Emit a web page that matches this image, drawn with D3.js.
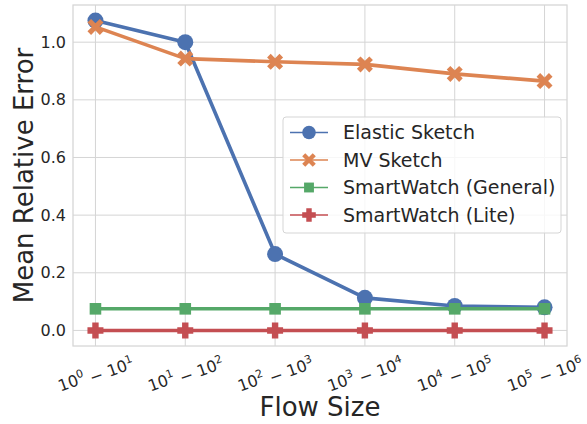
<!DOCTYPE html>
<html><head><meta charset="utf-8">
<script src="https://cdn.jsdelivr.net/npm/d3@7"></script>
<style>body{margin:0;background:#fff}svg{display:block}text{font-family:"DejaVu Sans",sans-serif;fill:#262626}</style>
</head><body><svg id="c" width="587" height="424"></svg>
<script>
const categories = [[0,1],[1,2],[2,3],[3,4],[4,5],[5,6]];
const elastic = [1.075, 1.0, 0.265, 0.113, 0.085, 0.080];
const mv = [1.053, 0.943, 0.932, 0.923, 0.890, 0.865];
const swGeneral = [0.075, 0.075, 0.075, 0.075, 0.075, 0.075];
const swLite = [0.0, 0.0, 0.0, 0.0, 0.0, 0.0];
const yTicks = [0.0, 0.2, 0.4, 0.6, 0.8, 1.0];
const seriesNames = ["Elastic Sketch", "MV Sketch", "SmartWatch (General)", "SmartWatch (Lite)"];
const colors = ["#4C72B0", "#DD8452", "#55A868", "#C44E52"];
const markers = ["circle", "x", "square", "plus"];

const svg = d3.select("#c");
const L = 73, R = 567, T = 5, B = 346;
const x = d3.scaleLinear().domain([-0.25, 5.25]).range([L, R]);
const y = d3.scaleLinear().domain([-0.054, 1.129]).range([B, T]);
const grid = "#d5d5d5";

// grid
svg.append("g").selectAll("line").data(yTicks).join("line")
  .attr("x1", L).attr("x2", R).attr("y1", d => y(d)).attr("y2", d => y(d))
  .attr("stroke", grid).attr("stroke-width", 1);
svg.append("g").selectAll("line").data(categories).join("line")
  .attr("x1", (d,i) => x(i)).attr("x2", (d,i) => x(i)).attr("y1", T).attr("y2", B)
  .attr("stroke", grid).attr("stroke-width", 1);
svg.append("rect").attr("x", L).attr("y", T).attr("width", R-L).attr("height", B-T)
  .attr("fill", "none").attr("stroke", grid).attr("stroke-width", 1.25);

// y tick labels
svg.append("g").selectAll("text").data(yTicks).join("text")
  .attr("x", L - 7).attr("y", d => y(d)).attr("dy", "0.35em")
  .attr("text-anchor", "end").attr("font-size", 16).text(d => d.toFixed(1));

// x tick labels
const xl = svg.append("g").selectAll("g").data(categories).join("g")
  .attr("transform", (d,i) => `translate(${x(i)},${B+27}) rotate(-20)`);
xl.each(function(d){
  const t = d3.select(this).append("text").attr("text-anchor","middle").attr("font-size",16).attr("dy","0.35em");
  t.append("tspan").text("10");
  t.append("tspan").attr("font-size",11).attr("dy","-0.6em").text(d[0]);
  t.append("tspan").attr("dy","0.6em").text(" \u2212 10");
  t.append("tspan").attr("font-size",11).attr("dy","-0.6em").text(d[1]);
});

// axis labels
svg.append("text").attr("x", (L+R)/2).attr("y", 416).attr("text-anchor","middle")
  .attr("font-size", 26).text("Flow Size");
svg.append("text").attr("transform", `translate(33,${(T+B)/2}) rotate(-90)`)
  .attr("text-anchor","middle").attr("font-size", 26).text("Mean Relative Error");

function drawMarker(g, type, cx, cy, color, s) {
  s = s || 1;
  if (type === "circle") g.append("circle").attr("cx",cx).attr("cy",cy).attr("r",8*s).attr("fill",color);
  else if (type === "square") g.append("rect").attr("x",cx-5.8*s).attr("y",cy-5.8*s).attr("width",11.6*s).attr("height",11.6*s).attr("fill",color);
  else if (type === "x") {
    const a = 8*s, w = 3.6*s;
    g.append("path").attr("d", `M${-a+w},${-a} L0,${-w} L${a-w},${-a} L${a},${-a+w} L${w},0 L${a},${a-w} L${a-w},${a} L0,${w} L${-a+w},${a} L${-a},${a-w} L${-w},0 L${-a},${-a+w} Z`)
      .attr("transform",`translate(${cx},${cy})`).attr("fill",color);
  } else if (type === "plus") {
    const a = 8*s, w = 3.2*s;
    g.append("path").attr("d", `M${-w},${-a} H${w} V${-w} H${a} V${w} H${w} V${a} H${-w} V${w} H${-a} V${-w} H${-w} Z`)
      .attr("transform",`translate(${cx},${cy})`).attr("fill",color);
  }
}

const allSeries = [elastic, mv, swGeneral, swLite];
const line = d3.line().x((d,i) => x(i)).y(d => y(d));
allSeries.forEach((vals, k) => {
  const g = svg.append("g");
  g.append("path").datum(vals).attr("d", line).attr("fill","none")
    .attr("stroke", colors[k]).attr("stroke-width", 3.6).attr("stroke-linejoin","round");
  vals.forEach((v,i) => drawMarker(g, markers[k], x(i), y(v), colors[k]));
});

// legend
const lg = svg.append("g");
lg.append("rect").attr("x",283).attr("y",117).attr("width",278).attr("height",116).attr("rx",3)
  .attr("fill","rgba(255,255,255,0.8)").attr("stroke","#d5d5d5");
seriesNames.forEach((n,k) => {
  const yy = 132.5 + k*27.5;
  lg.append("line").attr("x1",290).attr("x2",328).attr("y1",yy).attr("y2",yy)
    .attr("stroke",colors[k]).attr("stroke-width",1.5);
  drawMarker(lg, markers[k], 309, yy, colors[k], 0.85);
  lg.append("text").attr("x",343).attr("y",yy).attr("dy","0.35em").attr("font-size",19).text(n);
});
</script></body></html>
